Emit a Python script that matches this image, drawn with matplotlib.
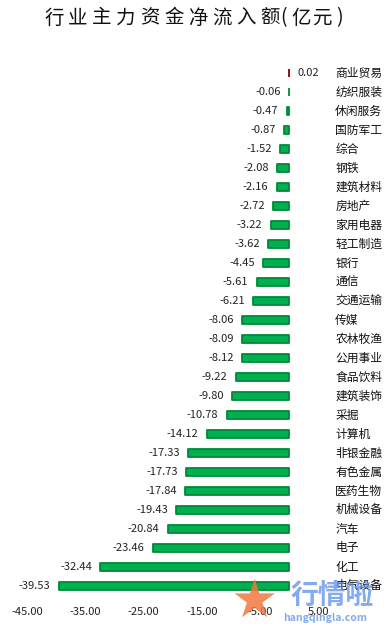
import matplotlib
matplotlib.use("Agg")
import matplotlib.pyplot as plt

plt.rcParams['font.family'] = ['Noto Sans CJK SC', 'DejaVu Sans']

categories = ['商业贸易', '纺织服装', '休闲服务', '国防军工', '综合', '钢铁', '建筑材料', '房地产',
              '家用电器', '轻工制造', '银行', '通信', '交通运输', '传媒', '农林牧渔', '公用事业',
              '食品饮料', '建筑装饰', '采掘', '计算机', '非银金融', '有色金属', '医药生物',
              '机械设备', '汽车', '电子', '化工', '电气设备']
values = [0.02, -0.06, -0.47, -0.87, -1.52, -2.08, -2.16, -2.72, -3.22, -3.62, -4.45, -5.61,
          -6.21, -8.06, -8.09, -8.12, -9.22, -9.80, -10.78, -14.12, -17.33, -17.73, -17.84,
          -19.43, -20.84, -23.46, -32.44, -39.53]
xticks = [-45, -35, -25, -15, -5, 5]
title = '行业主力资金净流入额(亿元)'

W, H = 391, 630
fig = plt.figure(figsize=(W / 100, H / 100), dpi=100)
top_px, bot_px = 63.5, 595.5
ax = fig.add_axes([27 / W, 1 - bot_px / H, (318.5 - 27) / W, (bot_px - top_px) / H])

y = list(range(len(categories)))
colors = ['#C00000' if v > 0 else '#00B050' for v in values]
edges = ['#8B0000' if v > 0 else '#00893A' for v in values]
ax.barh(y, values, height=0.42, color=colors, edgecolor=edges, linewidth=1.3,
        joinstyle='round')

for yi, v in zip(y, values):
    if v >= 0:
        ax.annotate(f'{v:.2f}', (v, yi), xytext=(6, 0), textcoords='offset points',
                    ha='left', va='center', fontsize=8, color='#222222')
    else:
        ax.annotate(f'{v:.2f}', (v, yi), xytext=(-6, 0), textcoords='offset points',
                    ha='right', va='center', fontsize=8, color='#222222')
    ax.annotate(categories[yi], (1, yi), xycoords=('axes fraction', 'data'),
                xytext=(12, 0), textcoords='offset points', ha='left', va='center',
                fontsize=8.5, color='#111111')

ax.set_xlim(-45, 5)
ax.set_ylim(len(categories) - 0.5, -0.5)
ax.set_xticks(xticks)
ax.set_xticklabels([f'{t:.2f}' for t in xticks], fontsize=8, color='#222222')
ax.set_yticks([])
ax.tick_params(axis='x', length=0, pad=8)
for s in ax.spines.values():
    s.set_visible(False)

# Title with letter spacing
x0, step = 54, 24
for i, ch in enumerate(title):
    if i < 10:
        xc = x0 + i * step
    else:
        xc = {10: 283, 11: 301, 12: 322, 13: 339}[i]
    fig.text(xc / W, 1 - 18 / H, ch, ha='center', va='center', fontsize=14,
             color='#111111')

# Watermark
fig.text(254 / W, 1 - 602 / H, '★', ha='center', va='center', fontsize=38,
         color='#F07840', alpha=0.85, family=['DejaVu Sans'])
fig.text(332 / W, 1 - 596 / H, '行情啦', ha='center', va='center', fontsize=20,
         color='#5B8FE8', alpha=0.75, fontweight='bold', style='italic')
fig.text(325 / W, 1 - 618 / H, 'hangqingla.com', ha='center', va='center', fontsize=7.5,
         color='#5B8FE8', alpha=0.75, fontweight='bold', style='italic')

fig.savefig('out.png', dpi=100)
